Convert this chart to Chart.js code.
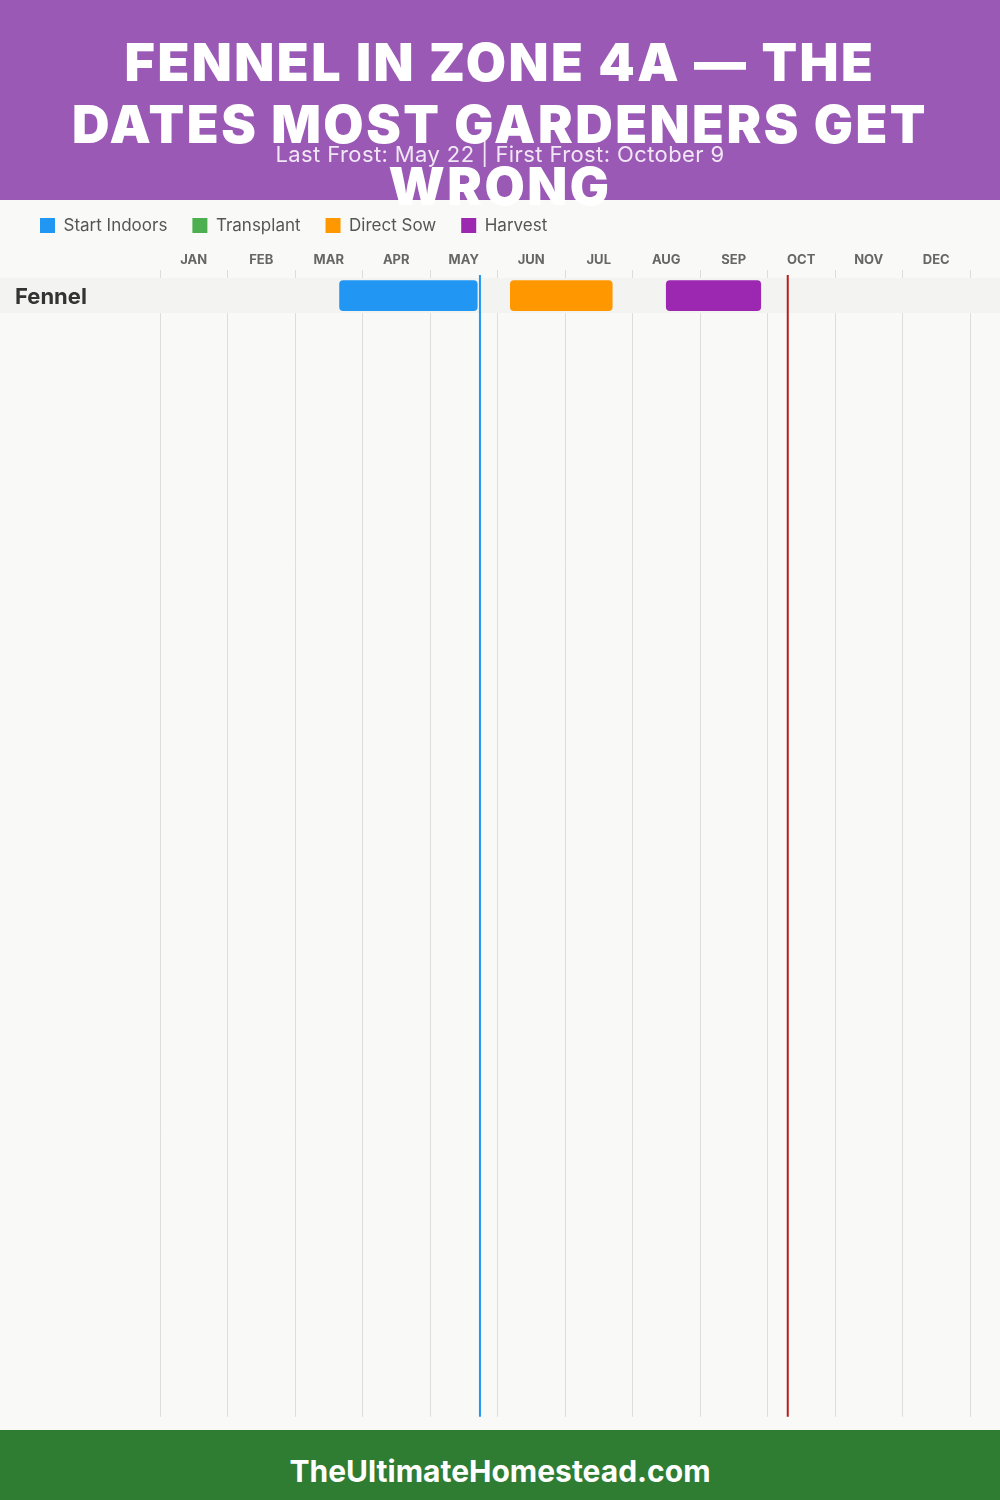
<!DOCTYPE html>
<html><head><meta charset="utf-8">
<script src="https://cdn.jsdelivr.net/npm/chart.js@4.4.1/dist/chart.umd.min.js"></script>
<style>
html,body{margin:0;padding:0;width:1000px;height:1500px;background:#f9f9f7;overflow:hidden;font-family:Inter,"DejaVu Sans",sans-serif;}
#header{position:absolute;left:0;top:0;width:1000px;height:200px;background:#9b59b6;z-index:0;}
#title{position:absolute;left:0;top:32px;width:1000px;text-align:center;color:#fff;font-weight:900;font-size:52px;letter-spacing:2.5px;line-height:62px;z-index:3;margin:0;}
#subtitle{position:absolute;left:0;top:141px;width:1000px;text-align:center;color:rgba(255,255,255,0.85);font-size:22px;letter-spacing:0.4px;line-height:26px;z-index:4;margin:0;}
#chartwrap{position:absolute;left:0;top:192px;width:1000px;height:1238px;z-index:1;}
#footer{position:absolute;left:0;top:1430px;width:1000px;height:70px;background:#2e7d32;z-index:2;}
#footer span{position:absolute;left:0;top:6px;width:1000px;color:#fff;font-weight:700;font-size:30px;line-height:70px;text-align:center;}
</style>
</head>
<body>
<div id="header"></div>
<h1 id="title">FENNEL IN ZONE 4A — THE<br>DATES MOST GARDENERS GET<br>WRONG</h1>
<p id="subtitle">Last Frost: May 22 | First Frost: October 9</p>
<div id="chartwrap"><canvas id="c" width="1000" height="1238"></canvas></div>
<div id="footer"><span>TheUltimateHomestead.com</span></div>
<script>
// ---- data (month index + fraction of month) ----
const months = ['JAN','FEB','MAR','APR','MAY','JUN','JUL','AUG','SEP','OCT','NOV','DEC'];
const crops = ['Fennel'];
const seriesNames = ['Start Indoors','Transplant','Direct Sow','Harvest'];
const startIndoors = [[2.66, 4.70]];
const transplant = [null];
const directSow = [[5.19, 6.70]];
const harvest = [[7.50, 8.90]];
const frostDates = [4.74, 9.30]; // last frost May 22, first frost Oct 9

// ---- styles ----
const seriesColors = ['#2196F3','#4CAF50','#FF9800','#9C27B0'];
const frostColors = ['#2196F3','#B71C1C'];

// rows are placed downward from 0: row i spans [-i-1, -i]
function toPoints(arr){
  const out = [];
  arr.forEach((r,i)=>{ if(r) out.push({x:r, y:-(i+0.5)}); });
  return out;
}
const seriesData = [startIndoors, transplant, directSow, harvest];

const bandPlugin = {
  id:'band',
  beforeDatasetsDraw(chart){
    const y = chart.scales.y, ctx = chart.ctx;
    ctx.save();
    ctx.fillStyle = '#f3f3f2';
    crops.forEach((c,i)=>{
      const y0 = y.getPixelForValue(-i), y1 = y.getPixelForValue(-(i+1));
      ctx.fillRect(0, Math.min(y0,y1), chart.width, Math.abs(y1-y0));
    });
    ctx.restore();
  }
};
const frostPlugin = {
  id:'frost',
  afterDatasetsDraw(chart){
    const x = chart.scales.x, ctx = chart.ctx, a = chart.chartArea;
    ctx.save();
    frostDates.forEach((d,i)=>{
      const px = x.getPixelForValue(d);
      ctx.strokeStyle = frostColors[i];
      ctx.lineWidth = 2;
      ctx.beginPath();
      ctx.moveTo(px, a.top);
      ctx.lineTo(px, a.bottom);
      ctx.stroke();
    });
    ctx.restore();
  }
};

Chart.defaults.font.family = 'Inter, "DejaVu Sans", sans-serif';
new Chart(document.getElementById('c'), {
  type:'bar',
  data:{
    datasets: seriesNames.map((n,i)=>({
      label:n,
      data:toPoints(seriesData[i]),
      backgroundColor:seriesColors[i],
      borderWidth:0,
      borderRadius:4,
      borderSkipped:false,
      barThickness:30,
      grouped:false
    }))
  },
  options:{
    indexAxis:'y',
    responsive:false,
    devicePixelRatio:1,
    animation:false,
    layout:{padding:{left:15,right:30,top:0,bottom:10}},
    plugins:{
      tooltip:{enabled:false},
      legend:{
        position:'top', align:'start',
        labels:{boxWidth:15, boxHeight:15, padding:25, color:'#555', font:{size:17}}
      }
    },
    scales:{
      x:{
        type:'linear', position:'top', min:0, max:12, offset:false,
        afterFit(s){ s.height = 31; },
        border:{display:false},
        grid:{color:'#dddddd', tickLength:5, lineWidth:1, offset:false},
        ticks:{stepSize:1, autoSkip:false, maxRotation:0, padding:2, labelOffset:33.75,
          color:'#666', font:{size:13, weight:'bold'},
          callback:(v)=> months[v] || ''}
      },
      y:{
        type:'linear', min:-32.63, max:0.09, offset:false, bounds:'data', grace:0, beginAtZero:false,
        afterFit(s){ s.width = 145; },
        afterBuildTicks(s){ s.ticks = crops.map((c,i)=>({value:-(i+0.5)})); },
        border:{display:false},
        grid:{display:false, offset:false},
        ticks:{z:1, crossAlign:'far', padding:0, labelOffset:2, color:'#333', font:{size:22, weight:'bold'},
          callback:(v)=> crops[Math.floor(-v)] || ''}
      }
    }
  },
  plugins:[bandPlugin, frostPlugin]
});
</script>
</body></html>
